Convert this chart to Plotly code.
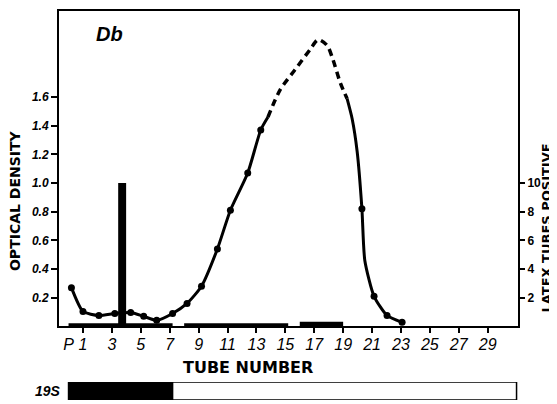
import plotly.graph_objects as go

# ---- data ----
tube_ticks = [0, 1, 3, 5, 7, 9, 11, 13, 15, 17, 19, 21, 23, 25, 27, 29]
tube_labels = ["P", "1", "3", "5", "7", "9", "11", "13", "15", "17", "19", "21", "23", "25", "27", "29"]

od_ticks = [0.2, 0.4, 0.6, 0.8, 1.0, 1.2, 1.4, 1.6]
od_labels = ["0.2", "0.4", "0.6", "0.8", "1.0", "1.2", "1.4", "1.6"]
latex_ticks = [2, 4, 6, 8, 10]

# measured optical density points (dots)
dot_tube = [0.2, 1.0, 2.1, 3.2, 4.3, 5.2, 6.1, 7.2, 8.2, 9.2, 10.3, 11.2, 12.4, 13.3, 20.3, 21.14, 22.04, 23.08]
dot_od = [0.27, 0.104, 0.076, 0.09, 0.097, 0.07, 0.042, 0.09, 0.16, 0.28, 0.54, 0.81, 1.07, 1.37, 0.82, 0.21, 0.076, 0.028]

# curve: solid rising part, dashed (extrapolated) peak, solid falling part
rise_tube = [0.2, 1.0, 2.1, 3.2, 4.3, 5.2, 6.1, 7.2, 8.2, 9.2, 10.3, 11.2, 12.4, 13.3, 13.8]
rise_od = [0.27, 0.104, 0.076, 0.09, 0.097, 0.07, 0.042, 0.09, 0.16, 0.28, 0.54, 0.81, 1.07, 1.37, 1.46]
peak_tube = [13.8, 14.64, 15.67, 16.71, 17.27, 17.89, 18.3, 18.8, 19.27]
peak_od = [1.46, 1.65, 1.79, 1.93, 2.0, 1.96, 1.86, 1.70, 1.59]
fall_tube = [19.27, 19.62, 19.97, 20.3, 20.5, 21.14, 22.04, 23.08]
fall_od = [1.59, 1.45, 1.22, 0.82, 0.46, 0.21, 0.076, 0.028]

# latex tubes positive (bars): centre, width, value
latex_center = [3.6, 11.6, 17.5, 3.71]
latex_width = [7.2, 7.2, 3.0, 0.55]
latex_value = [0.22, 0.22, 0.32, 10]

# 19S band: black part to tube 7.2, open part to tube 31
band_black_end = 7.2
band_end = 31.0

X_RANGE = [-0.66, 31.1]

fig = go.Figure()

fig.add_trace(go.Bar(x=latex_center, y=latex_value, width=latex_width,
                     marker=dict(color="black", line=dict(width=0)),
                     yaxis="y2", showlegend=False))

fig.add_trace(go.Scatter(x=rise_tube, y=rise_od, mode="lines",
                         line=dict(color="black", width=3, shape="spline", smoothing=0.6),
                         showlegend=False))
fig.add_trace(go.Scatter(x=peak_tube, y=peak_od, mode="lines",
                         line=dict(color="black", width=3.5, dash="7px,5px", shape="spline", smoothing=0.8),
                         showlegend=False))
fig.add_trace(go.Scatter(x=fall_tube, y=fall_od, mode="lines",
                         line=dict(color="black", width=3, shape="spline", smoothing=0.6),
                         showlegend=False))
fig.add_trace(go.Scatter(x=dot_tube, y=dot_od, mode="markers",
                         marker=dict(color="black", size=7),
                         showlegend=False))

# 19S band on its own little axis below
fig.add_trace(go.Bar(y=[0.5], x=[band_black_end], base=[0], orientation="h", width=1,
                     marker=dict(color="black", line=dict(color="black", width=1.5)),
                     xaxis="x2", yaxis="y3", showlegend=False))
fig.add_trace(go.Bar(y=[0.5], x=[band_end - band_black_end], base=[band_black_end], orientation="h", width=1,
                     marker=dict(color="white", line=dict(color="black", width=1.5)),
                     xaxis="x2", yaxis="y3", showlegend=False))

tick_font = dict(family="Liberation Sans", color="black")

# the page body adds an 8px offset, so the figure is 8px smaller and margins shifted
fig.update_layout(
    width=549, height=396, autosize=False,
    margin=dict(l=51, r=39, t=1, b=4),
    paper_bgcolor="white", plot_bgcolor="white",
    barmode="overlay",
    xaxis=dict(domain=[0, 1], range=X_RANGE, anchor="y",
               showline=True, linewidth=2, linecolor="black", mirror=True,
               showgrid=False, zeroline=False,
               tickmode="array", tickvals=tube_ticks, ticktext=tube_labels, ticks="",
               ticklabelstandoff=2,
               tickfont=dict(tick_font, size=16, style="italic"),
               minor=dict(tickmode="array", tickvals=tube_ticks[1:], ticks="outside",
                          ticklen=5, tickwidth=1.5, tickcolor="black", showgrid=False)),
    yaxis=dict(domain=[0.1893, 1], range=[0, 2.2],
               showline=True, linewidth=2, linecolor="black",
               showgrid=False, zeroline=False,
               tickmode="array", tickvals=od_ticks, ticktext=od_labels,
               ticks="outside", ticklen=6, tickwidth=1.5, tickcolor="black",
               tickfont=dict(tick_font, size=12, style="italic", weight="bold")),
    yaxis2=dict(overlaying="y", side="right", range=[0, 22],
                showline=True, linewidth=2, linecolor="black",
                showgrid=False, zeroline=False,
                tickmode="array", tickvals=latex_ticks,
                ticks="outside", ticklen=5, tickwidth=1.5, tickcolor="black",
                tickfont=dict(tick_font, size=12, weight="bold")),
    xaxis2=dict(domain=[0, 1], range=X_RANGE, anchor="y3", visible=False),
    yaxis3=dict(domain=[0, 0.046], range=[0, 1], visible=False),
)

ann_font = dict(family="DejaVu Sans", color="black", weight="bold")
common = dict(xref="paper", yref="paper", showarrow=False, xanchor="center", yanchor="middle")
fig.add_annotation(text="Db", x=0.111, y=0.941, **common,
                   font=dict(family="Liberation Sans", size=20, color="black", weight="bold", style="italic"))
fig.add_annotation(text="TUBE NUMBER", x=0.412, y=0.0844, **common,
                   font=dict(ann_font, size=16))
fig.add_annotation(text="19S", x=-0.024, y=0.023, **common,
                   font=dict(family="Liberation Sans", size=14, color="black", weight="bold", style="italic"))
fig.add_annotation(text="OPTICAL DENSITY", x=-0.0959, y=0.514, textangle=-90, **common,
                   font=dict(ann_font, size=14))
fig.add_annotation(text="LATEX TUBES POSITIVE", x=1.062, y=0.442, textangle=-90, **common,
                   font=dict(ann_font, size=13))

fig.write_html("out.html")
